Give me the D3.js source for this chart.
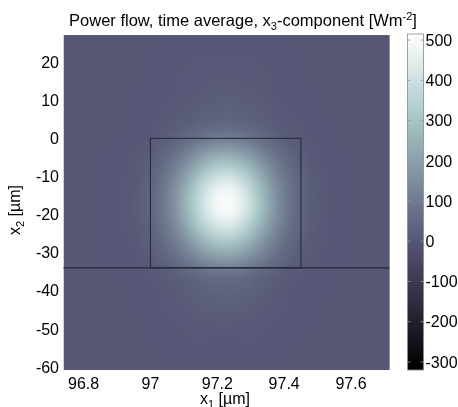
<!DOCTYPE html>
<html>
<head>
<meta charset="utf-8">
<script src="https://cdn.jsdelivr.net/npm/d3@7"></script>
<style>
  html, body { margin: 0; padding: 0; background: #fff; }
  #wrap { position: relative; width: 458px; height: 407px; overflow: hidden; }
  canvas, svg { position: absolute; left: 0; top: 0; }
  text { font-family: "Liberation Sans", Arial, sans-serif; fill: #000; }
</style>
</head>
<body>
<div id="wrap"></div>
<script>
// ---------- data ----------
const xTicks = [96.8, 97, 97.2, 97.4, 97.6];
const yTicks = [20, 10, 0, -10, -20, -30, -40, -50, -60];
const colorTicks = [500, 400, 300, 200, 100, 0, -100, -200, -300];

// sample positions of the field (µm)
const xSamples = [96.76, 96.80, 96.84, 96.88, 96.92, 96.96, 97.00, 97.04, 97.08, 97.12, 97.16, 97.20, 97.24,
                  97.28, 97.32, 97.36, 97.40, 97.44, 97.48, 97.52, 97.56, 97.60, 97.64, 97.68, 97.72];
const ySamples = [28, 24, 20, 16, 12, 8, 4, 0, -4, -8, -12, -16, -20, -24, -28, -32, -36, -40, -44, -48, -52, -56, -60];
// relative field profiles along x1 (through spot centre) and along x2
const xProfile = [0, 0, 0, 0.003, 0.01, 0.031, 0.081, 0.184, 0.354, 0.58, 0.815, 0.97, 0.987,
                  0.855, 0.63, 0.40, 0.21, 0.097, 0.038, 0.013, 0.004, 0, 0, 0, 0];
const yProfile = [0, 0.006, 0.012, 0.02, 0.03, 0.05, 0.08, 0.2, 0.44, 0.68, 0.89, 0.995, 0.957,
                  0.79, 0.56, 0.34, 0.12, 0.07, 0.045, 0.025, 0.012, 0.005, 0];
const peakValue = 512;          // W m^-2
const colorDomain = [-320, 515];

// waveguide core outline and substrate interface (µm)
const coreX = [97.0, 97.45];
const coreY = [-34, 0];
const interfaceY = -34;

// ---------- layout ----------
const W = 458, H = 407;
const plot = { left: 63.5, right: 389.5, top: 35, bottom: 370 };
const cbar = { left: 407.5, right: 423.5, top: 34, bottom: 370 };

const x = d3.scaleLinear().domain([96.74, 97.715]).range([plot.left, plot.right]);
const y = d3.scaleLinear().domain([-60.8, 27.1]).range([plot.bottom, plot.top]);
const cScale = d3.scaleLinear().domain(colorDomain).range([cbar.bottom, cbar.top]);

// MATLAB "bone" colormap
function bone(t) {
  t = Math.max(0, Math.min(1, t));
  const hr = Math.min(1, t / 0.375);
  const hg = t < 0.375 ? 0 : Math.min(1, (t - 0.375) / 0.375);
  const hb = t < 0.75 ? 0 : (t - 0.75) / 0.25;
  const r = (7 * t + hb) / 8, g = (7 * t + hg) / 8, b = (7 * t + hr) / 8;
  return [Math.round(r * 255), Math.round(g * 255), Math.round(b * 255)];
}
const tOf = d3.scaleLinear().domain(colorDomain).range([0, 1]).clamp(true);

const wrap = d3.select("#wrap");
const canvas = wrap.append("canvas").attr("width", W).attr("height", H).node();
const ctx = canvas.getContext("2d");

// small field image: one pixel per sample
const n = xSamples.length, m = ySamples.length;
const small = document.createElement("canvas");
small.width = n; small.height = m;
const sctx = small.getContext("2d");
const img = sctx.createImageData(n, m);
for (let j = 0; j < m; j++) {
  for (let i = 0; i < n; i++) {
    const v = peakValue * xProfile[i] * yProfile[j];
    const c = bone(tOf(v));
    const k = (j * n + i) * 4;
    img.data[k] = c[0]; img.data[k + 1] = c[1]; img.data[k + 2] = c[2]; img.data[k + 3] = 255;
  }
}
sctx.putImageData(img, 0, 0);

const dxs = xSamples[1] - xSamples[0];
const dys = ySamples[0] - ySamples[1];
const ix0 = x(xSamples[0] - dxs / 2), ix1 = x(xSamples[n - 1] + dxs / 2);
const iy0 = y(ySamples[0] + dys / 2), iy1 = y(ySamples[m - 1] - dys / 2);

ctx.save();
ctx.beginPath();
ctx.rect(plot.left, plot.top, plot.right - plot.left, plot.bottom - plot.top);
ctx.clip();
ctx.fillStyle = "rgb(" + bone(tOf(0)).join(",") + ")";
ctx.fillRect(plot.left, plot.top, plot.right - plot.left, plot.bottom - plot.top);
ctx.imageSmoothingEnabled = true;
ctx.imageSmoothingQuality = "high";
ctx.drawImage(small, 0, 0, n, m, ix0, iy0, ix1 - ix0, iy1 - iy0);
ctx.restore();

// colorbar gradient
for (let py = cbar.top; py < cbar.bottom; py++) {
  const v = cScale.invert(py + 0.5);
  ctx.fillStyle = "rgb(" + bone(tOf(v)).join(",") + ")";
  ctx.fillRect(cbar.left, py, cbar.right - cbar.left, 1);
}

// ---------- SVG overlay ----------
const svg = wrap.append("svg").attr("width", W).attr("height", H);

// core rectangle + interface line
svg.append("rect")
  .attr("x", x(coreX[0])).attr("y", y(coreY[1]))
  .attr("width", x(coreX[1]) - x(coreX[0]))
  .attr("height", y(coreY[0]) - y(coreY[1]))
  .attr("fill", "none").attr("stroke", "#262a3a").attr("stroke-width", 1.1);
svg.append("line")
  .attr("x1", plot.left).attr("x2", plot.right)
  .attr("y1", y(interfaceY)).attr("y2", y(interfaceY))
  .attr("stroke", "#262a3a").attr("stroke-width", 1.1);

const fs = 16;
// x tick labels
svg.append("g").selectAll("text").data(xTicks).join("text")
  .attr("x", d => x(d)).attr("y", 389)
  .attr("text-anchor", "middle").attr("font-size", fs)
  .text(d => String(d));
// y tick labels
svg.append("g").selectAll("text").data(yTicks).join("text")
  .attr("x", 59).attr("y", d => y(d))
  .attr("dy", "0.36em")
  .attr("text-anchor", "end").attr("font-size", fs)
  .text(d => String(d));

// x axis label
const xl = svg.append("text").attr("x", 225).attr("y", 404)
  .attr("text-anchor", "middle").attr("font-size", fs);
xl.append("tspan").text("x");
xl.append("tspan").attr("font-size", 11).attr("dy", 4).text("1");
xl.append("tspan").attr("dy", -4).text(" [µm]");

// y axis label
const yl = svg.append("text")
  .attr("transform", `translate(20,210) rotate(-90)`)
  .attr("text-anchor", "middle").attr("font-size", fs);
yl.append("tspan").text("x");
yl.append("tspan").attr("font-size", 11).attr("dy", 4).text("2");
yl.append("tspan").attr("dy", -4).text(" [µm]");

// title
const tl = svg.append("text").attr("x", 243).attr("y", 26)
  .attr("text-anchor", "middle").attr("font-size", 16.5);
tl.append("tspan").text("Power flow, time average, x");
tl.append("tspan").attr("font-size", 11).attr("dy", 4).text("3");
tl.append("tspan").attr("dy", -4).text("-component [Wm");
tl.append("tspan").attr("font-size", 11).attr("dy", -6).text("-2");
tl.append("tspan").attr("dy", 6).text("]");

// colorbar frame, ticks, labels
svg.append("rect")
  .attr("x", cbar.left).attr("y", cbar.top)
  .attr("width", cbar.right - cbar.left).attr("height", cbar.bottom - cbar.top)
  .attr("fill", "none").attr("stroke", "#8a8a8a").attr("stroke-width", 0.8);
const ct = svg.append("g");
ct.selectAll("line.l").data(colorTicks).join("line").attr("class", "l")
  .attr("x1", cbar.left).attr("x2", cbar.left + 3)
  .attr("y1", d => cScale(d)).attr("y2", d => cScale(d))
  .attr("stroke", "#999").attr("stroke-width", 0.8);
ct.selectAll("line.r").data(colorTicks).join("line").attr("class", "r")
  .attr("x1", cbar.right - 3).attr("x2", cbar.right)
  .attr("y1", d => cScale(d)).attr("y2", d => cScale(d))
  .attr("stroke", "#999").attr("stroke-width", 0.8);
ct.selectAll("text").data(colorTicks).join("text")
  .attr("x", cbar.right + 2).attr("y", d => cScale(d))
  .attr("dy", "0.36em").attr("font-size", fs)
  .text(d => String(d));
</script>
</body>
</html>
